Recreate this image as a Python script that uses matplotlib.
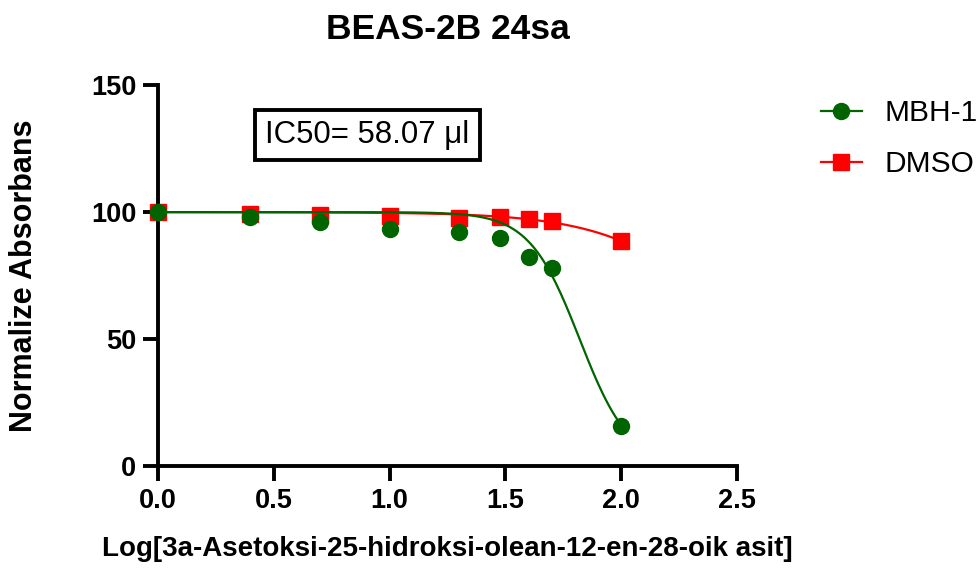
import numpy as np
import matplotlib
matplotlib.use("Agg")
import matplotlib.pyplot as plt

# log10 of concentration (1, 2.5, 5, 10, 20, 30, 40, 50, 100)
LOG_CONC = [0.0, 0.398, 0.699, 1.0, 1.301, 1.477, 1.602, 1.699, 2.0]
MBH1 = [100.0, 98.2, 96.3, 93.4, 92.0, 89.7, 82.3, 77.9, 15.8]
DMSO = [100.0, 99.2, 98.8, 98.4, 97.6, 97.9, 97.4, 96.7, 88.8]

# four-parameter logistic fit curves (top, bottom, logIC50, hill)
MBH1_FIT = (100.0, 0.0, 1.82, 4.0)
DMSO_FIT = (100.0, 0.0, 2.55, 1.62)

X_TICKS = [0.0, 0.5, 1.0, 1.5, 2.0, 2.5]
Y_TICKS = [0, 50, 100, 150]

GREEN = "#006400"
RED = "#ff0000"

plt.rcParams["font.family"] = ["Liberation Sans", "DejaVu Sans"]


def logistic(x, top, bottom, c, h):
    return bottom + (top - bottom) / (1 + 10 ** ((x - c) * h))


fig = plt.figure(figsize=(9.8, 5.7), dpi=100)
ax = fig.add_axes([0.1612, 0.1825, 0.591, 0.668])

xs = np.linspace(0, 2, 300)
ax.plot(xs, logistic(xs, *DMSO_FIT), color=RED, lw=1.6, zorder=2)
ax.plot(LOG_CONC, DMSO, "s", color=RED, ms=12, zorder=3, clip_on=False)
ax.plot(xs, logistic(xs, *MBH1_FIT), color=GREEN, lw=1.6, zorder=4)
ax.plot(LOG_CONC, MBH1, "o", color=GREEN, ms=11.5, zorder=5, clip_on=False)

# legend handles
h1, = ax.plot([], [], "-o", color=GREEN, ms=11.5, lw=1.6, label="MBH-1")
h2, = ax.plot([], [], "-s", color=RED, ms=11.5, lw=1.6, label="DMSO")
fig.legend(handles=[h1, h2], loc="upper left", bbox_to_anchor=(0.8378, 0.826),
           frameon=False, fontsize=21.5, handlelength=1.37, handletextpad=0.75,
           labelspacing=0.78, borderpad=0, borderaxespad=0)

ax.set_xlim(0, 2.5)
ax.set_ylim(0, 150)
ax.set_xticks(X_TICKS)
ax.set_xticklabels([f"{t:.1f}" for t in X_TICKS])
ax.set_yticks(Y_TICKS)

for s in ["top", "right"]:
    ax.spines[s].set_visible(False)
for s in ["left", "bottom"]:
    ax.spines[s].set_linewidth(2.8)

ax.tick_params(direction="out", length=10.5, width=2.8, labelsize=19.5)
ax.tick_params(axis="x", pad=5)
ax.tick_params(axis="y", pad=5)
for lab in ax.get_xticklabels() + ax.get_yticklabels():
    lab.set_fontweight("bold")

ax.set_title("BEAS-2B 24sa", fontsize=25.5, fontweight="bold", pad=33)
ax.set_ylabel("Normalize Absorbans", fontsize=22, fontweight="bold")
ax.yaxis.set_label_coords(-0.206, 0.5)
ax.set_xlabel("Log[3a-Asetoksi-25-hidroksi-olean-12-en-28-oik asit]",
              fontsize=20, fontweight="bold")
ax.xaxis.set_label_coords(0.5, -0.183)

ax.text(0.3618, 0.8688, "IC50= 58.07 \u03bcl", transform=ax.transAxes,
        ha="center", va="center", fontsize=22.4,
        bbox=dict(boxstyle="square,pad=0.32", fc="white", ec="black", lw=2.8))

fig.savefig("out.png", dpi=100)
